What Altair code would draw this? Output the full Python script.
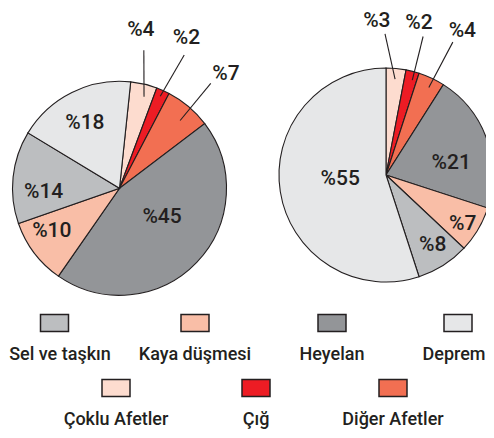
import math
import altair as alt
import pandas as pd

# ---------------- data ----------------
categories = ["Sel ve taşkın", "Kaya düşmesi", "Heyelan", "Deprem",
              "Çoklu Afetler", "Çığ", "Diğer Afetler"]
colors = ["#bcbec0", "#f9bea7", "#939598", "#e6e7e8",
          "#fddccf", "#ed1c24", "#f26f52"]

# clockwise slice order (from the top)
pie_order = ["Çoklu Afetler", "Çığ", "Diğer Afetler", "Heyelan",
             "Kaya düşmesi", "Sel ve taşkın", "Deprem"]
left_values = [4, 2, 7, 45, 10, 14, 18]
right_values = [3, 2, 4, 21, 7, 8, 55]

# ---------------- layout ----------------
W, H = 478, 422
R = 107
FONT = "Roboto, Liberation Sans, sans-serif"
INK = "#231f20"

PIES = {
    "left": dict(cx=111.5, cy=180.3, start=6.0, values=left_values,
                 # label (angle, radius factor)
                 labels=[(7.7, 1.49), (24, 1.54), (43, 1.46), (124, 0.48),
                         (237.5, 0.75), (267, 0.71), (332, 0.69)],
                 # leader lines ((a0, r0), (a1, r1)) for small slices
                 leaders={0: ((15, 0.886), (10, 1.31)),
                          1: ((23.9, 0.94), (25.9, 1.385)),
                          2: ((41.8, 0.85), (41, 1.30))}),
    "right": dict(cx=378.0, cy=167.0, start=0.0, values=right_values,
                  labels=[(-3.4, 1.44), (12.3, 1.45), (28, 1.52), (79.7, 0.62),
                          (122.5, 0.85), (146.5, 0.79), (265, 0.43)],
                  leaders={0: ((5.4, 0.90), (-0.4, 1.32)),
                           1: ((15.5, 0.92), (15, 1.34)),
                           2: ((26.1, 0.91), (26.7, 1.39))}),
}


def polar(cx, cy, ang, rf):
    a = math.radians(ang)
    return cx + rf * R * math.sin(a), cy - rf * R * math.cos(a)


slices, texts, lines = [], [], []
for name, p in PIES.items():
    cum = 0.0
    for i, (cat, v) in enumerate(zip(pie_order, p["values"])):
        t0 = p["start"] + cum * 3.6
        cum += v
        t1 = p["start"] + cum * 3.6
        slices.append(dict(pie=name, cat=cat, cx=p["cx"], cy=p["cy"], t0=t0, t1=t1))
        lx, ly = polar(p["cx"], p["cy"], *p["labels"][i])
        texts.append(dict(x=lx, y=ly, label=f"%{v}"))
        if i in p["leaders"]:
            (a0, r0), (a1, r1) = p["leaders"][i]
            x0, y0 = polar(p["cx"], p["cy"], a0, r0)
            x1, y1 = polar(p["cx"], p["cy"], a1, r1)
            lines.append(dict(x=x0, y=y0, x2=x1, y2=y1))

slices = pd.DataFrame(slices)
texts = pd.DataFrame(texts)
lines = pd.DataFrame(lines)

# legend layout: two centred rows
row1_x = [46.5, 187, 324, 450]
row2_x = [108, 248, 385]
row1_tx = [52, 187, 324, 446]
leg = []
for i, cat in enumerate(categories):
    if i < 4:
        x, tx, ys, yl = row1_x[i], row1_tx[i], 315, 352
    else:
        x, tx, ys, yl = row2_x[i - 4], row2_x[i - 4], 380, 417
    leg.append(dict(cat=cat, x=x - 14, x2=x + 14, y=ys - 8.5, y2=ys + 8.5, tx=tx, ty=yl))
leg = pd.DataFrame(leg)

xs = alt.Scale(domain=[0, W], nice=False, zero=False)
ys = alt.Scale(domain=[0, H], nice=False, zero=False, reverse=True)
color = alt.Color("cat:N", scale=alt.Scale(domain=categories, range=colors), legend=None)

arcs = alt.Chart(slices).mark_arc(outerRadius=R, stroke=INK, strokeWidth=1.1).encode(
    x=alt.X("cx:Q", scale=xs, axis=None),
    y=alt.Y("cy:Q", scale=ys, axis=None),
    theta=alt.Theta("t0:Q", stack=None,
                    scale=alt.Scale(domain=[0, 360], range=[0, 2 * math.pi])),
    theta2="t1:Q",
    color=color,
)

leaders = alt.Chart(lines).mark_rule(color=INK, strokeWidth=1.1).encode(
    x=alt.X("x:Q", scale=xs, axis=None),
    y=alt.Y("y:Q", scale=ys, axis=None),
    x2="x2:Q", y2="y2:Q",
)

labels = alt.Chart(texts).mark_text(font=FONT, fontSize=21, fontWeight=500, color=INK,
                                    align="center", baseline="middle").encode(
    x=alt.X("x:Q", scale=xs, axis=None),
    y=alt.Y("y:Q", scale=ys, axis=None),
    text="label:N",
)

swatches = alt.Chart(leg).mark_rect(stroke=INK, strokeWidth=1.5).encode(
    x=alt.X("x:Q", scale=xs, axis=None), x2="x2:Q",
    y=alt.Y("y:Q", scale=ys, axis=None), y2="y2:Q",
    color=color,
)

leg_text = alt.Chart(leg).mark_text(font=FONT, fontSize=18, fontWeight=500, color=INK,
                                    align="center", baseline="alphabetic").encode(
    x=alt.X("tx:Q", scale=xs, axis=None),
    y=alt.Y("ty:Q", scale=ys, axis=None),
    text="cat:N",
)

chart = alt.layer(arcs, leaders, labels, swatches, leg_text).properties(
    width=W, height=H, padding=0, autosize=alt.AutoSizeParams(type="none")
).configure_view(stroke=None)

chart.save("out.html", embed_options={"renderer": "svg", "actions": False})
